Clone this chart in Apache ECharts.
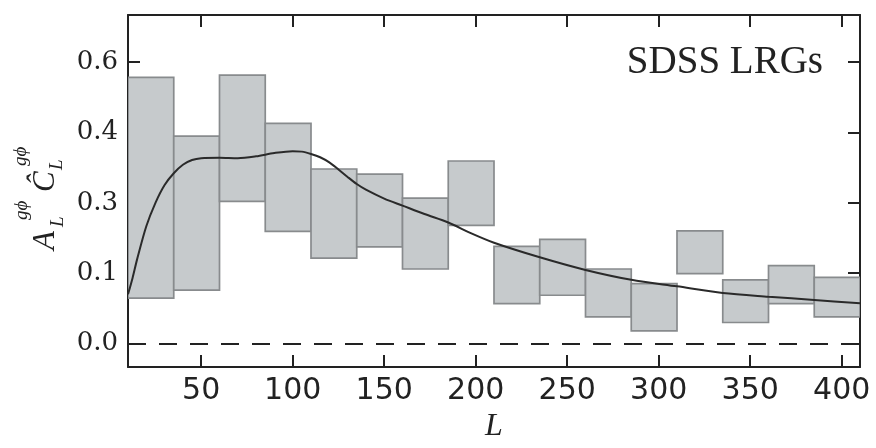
<!DOCTYPE html>
<html><head><meta charset="utf-8">
<script src="https://cdn.jsdelivr.net/npm/echarts@6/dist/echarts.min.js"></script>
<style>html,body{margin:0;padding:0;background:#fff}#c{width:876px;height:448px}</style>
</head><body><div id="c"></div>
<script>
// Bins (multipole L ranges) and box extents (error-band boxes)
const binLo = [10, 35, 60, 85, 110, 135, 160, 185, 210, 235, 260, 285, 310, 335, 360, 385];
const binHi = [35, 60, 85, 110, 135, 160, 185, 210, 235, 260, 285, 310, 335, 360, 385, 410];
const boxTop = [0.567, 0.442, 0.572, 0.469, 0.372, 0.361, 0.310, 0.389, 0.207, 0.222, 0.159, 0.128, 0.240, 0.136, 0.166, 0.141];
const boxBottom = [0.097, 0.114, 0.303, 0.239, 0.182, 0.206, 0.159, 0.252, 0.085, 0.103, 0.057, 0.027, 0.149, 0.045, 0.085, 0.057];
// Theory curve
const curveL = [10, 12.5, 15, 20, 25, 30, 35, 40, 45, 50, 60, 70, 80, 90, 100, 105, 110, 115, 120, 125, 130, 135, 140, 150, 160, 172, 185, 197, 210, 235, 260, 285, 310, 335, 360, 385, 410];
const curveV = [0.105, 0.14, 0.18, 0.25, 0.30, 0.338, 0.363, 0.381, 0.391, 0.395, 0.396, 0.395, 0.399, 0.406, 0.410, 0.409, 0.404, 0.397, 0.386, 0.371, 0.355, 0.340, 0.328, 0.309, 0.294, 0.276, 0.258, 0.236, 0.215, 0.184, 0.157, 0.136, 0.122, 0.108, 0.100, 0.093, 0.086];
// Ticks
const xTicks = [50, 100, 150, 200, 250, 300, 350, 400];
const xTickLabels = ['50', '100', '150', '200', '250', '300', '350', '400'];
const yTicks = [0, 0.15, 0.30, 0.45, 0.60];
const yTickLabels = ['0.0', '0.1', '0.3', '0.4', '0.6'];
const zeroLevel = 0;

function lookup(ticks, labels, v) {
  const i = ticks.findIndex(t => Math.abs(t - v) < 1e-9);
  return i >= 0 ? labels[i] : '';
}

const chart = echarts.init(document.getElementById('c'), null, {renderer: 'canvas'});
const axisColor = '#222';
const lineCommon = {show: true, onZero: false, lineStyle: {color: axisColor, width: 2}};
const tickX = {show: true, inside: true, length: 12, customValues: xTicks, lineStyle: {color: axisColor, width: 2}};
const tickY = {show: true, inside: true, length: 12, customValues: yTicks, lineStyle: {color: axisColor, width: 2}};

chart.setOption({
  animation: false,
  backgroundColor: '#fff',
  grid: {left: 128, right: 16, top: 15, bottom: 69},
  xAxis: [
    {type: 'value', min: 10, max: 410, position: 'bottom',
     axisLine: lineCommon, axisTick: tickX, splitLine: {show: false},
     axisLabel: {customValues: xTicks, formatter: v => lookup(xTicks, xTickLabels, v),
       fontFamily: 'DejaVu Sans', fontSize: 30, color: '#222', margin: 9},
     name: 'L', nameLocation: 'middle', nameGap: 55,
     nameTextStyle: {fontFamily: 'Liberation Serif', fontStyle: 'italic', fontSize: 32, color: '#222', verticalAlign: 'middle'}},
    {type: 'value', min: 10, max: 410, position: 'top',
     axisLine: lineCommon, axisTick: tickX, splitLine: {show: false}, axisLabel: {show: false}}
  ],
  yAxis: [
    {type: 'value', min: -0.05, max: 0.7, position: 'left',
     axisLine: lineCommon, axisTick: tickY, splitLine: {show: false},
     axisLabel: {customValues: yTicks, formatter: v => lookup(yTicks, yTickLabels, v),
       fontFamily: 'DejaVu Serif', fontSize: 26, color: '#222', margin: 10}},
    {type: 'value', min: -0.05, max: 0.7, position: 'right',
     axisLine: lineCommon, axisTick: tickY, splitLine: {show: false}, axisLabel: {show: false}}
  ],
  series: [
    {type: 'custom', clip: true, z: 2,
     data: binLo.map((lo, i) => [lo, binHi[i], boxBottom[i], boxTop[i]]),
     encode: {x: [0, 1], y: [2, 3]},
     renderItem: (params, api) => {
       const p0 = api.coord([api.value(0), api.value(3)]);
       const p1 = api.coord([api.value(1), api.value(2)]);
       return {type: 'rect',
         shape: {x: p0[0], y: p0[1], width: p1[0] - p0[0], height: p1[1] - p0[1]},
         style: {fill: '#c6cacc', stroke: '#888b8d', lineWidth: 1.7}};
     }},
    {type: 'line', z: 3, smooth: 0.3, showSymbol: false, symbol: 'none',
     data: curveL.map((l, i) => [l, curveV[i]]),
     lineStyle: {color: '#2a2a2a', width: 2},
     markLine: {silent: true, symbol: ['none', 'none'], label: {show: false},
       lineStyle: {type: [18, 13], color: '#222', width: 2},
       data: [{yAxis: zeroLevel}]}}
  ],
  graphic: [
    {type: 'text', x: 823, y: 63, z: 10,
     style: {text: 'SDSS LRGs', font: '39px "Liberation Serif"', fill: '#222',
       textAlign: 'right', textVerticalAlign: 'middle', align: 'right', verticalAlign: 'middle'}},
    {type: 'group', x: 55, y: 250, rotation: Math.PI / 2, z: 10,
     children: [
       {type: 'text', x: 0, y: -9, style: {text: 'A', font: 'italic 31px "Liberation Serif"', fill: '#222', textAlign: 'left', textVerticalAlign: 'middle', align: 'left', verticalAlign: 'middle'}},
       {type: 'text', x: 23, y: 3, style: {text: 'L', font: 'italic 19px "Liberation Serif"', fill: '#222', textAlign: 'left', textVerticalAlign: 'middle', align: 'left', verticalAlign: 'middle'}},
       {type: 'text', x: 30, y: -33, style: {text: 'g\u03d5', font: 'italic 19px "Liberation Serif"', fill: '#222', textAlign: 'left', textVerticalAlign: 'middle', align: 'left', verticalAlign: 'middle'}},
       {type: 'text', x: 58, y: -9, style: {text: '\u0108', font: 'italic 31px "Liberation Serif"', fill: '#222', textAlign: 'left', textVerticalAlign: 'middle', align: 'left', verticalAlign: 'middle'}},
       {type: 'text', x: 80, y: 2, style: {text: 'L', font: 'italic 19px "Liberation Serif"', fill: '#222', textAlign: 'left', textVerticalAlign: 'middle', align: 'left', verticalAlign: 'middle'}},
       {type: 'text', x: 84, y: -34, style: {text: 'g\u03d5', font: 'italic 19px "Liberation Serif"', fill: '#222', textAlign: 'left', textVerticalAlign: 'middle', align: 'left', verticalAlign: 'middle'}}
     ]}
  ]
});
</script>
</body></html>
